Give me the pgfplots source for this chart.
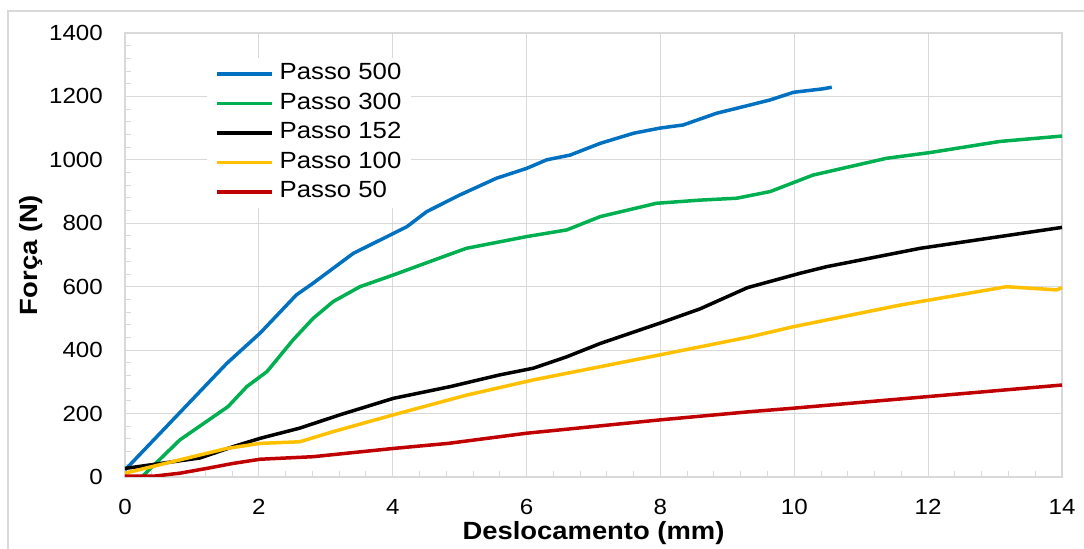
\documentclass[border=0pt]{standalone}
\usepackage{fontspec}
\setmainfont{Liberation Sans}[FakeStretch=1.1]
\usepackage{pgfplots}
\pgfplotsset{compat=1.18}
\definecolor{cBlue}{RGB}{0,112,192}
\definecolor{cGreen}{RGB}{0,176,80}
\definecolor{cYellow}{RGB}{255,192,0}
\definecolor{cRed}{RGB}{192,0,0}
\definecolor{cGrid}{RGB}{217,217,217}
\begin{document}
\begin{tikzpicture}[x=1bp,y=1bp]
\begin{axis}[
  at={(0,0)}, anchor=south west,
  scale only axis, width=937bp, height=444bp,
  xmin=0, xmax=14, ymin=0, ymax=1400,
  xtick={0,2,...,14}, ytick={0,200,...,1400},
  minor tick num=4,
  tick pos=left, tick align=inside,
  major tick length=0pt, minor tick length=6bp,
  every tick/.style={cGrid, line width=1bp},
  grid=major,
  major grid style={cGrid, line width=1.2bp},
  axis line style={cGrid, line width=1.2bp},
  /pgf/number format/assume math mode=true,
  /pgf/number format/1000 sep={},
  ticklabel style={font=\fontsize{22}{22}\selectfont, text=black},
  yticklabel style={inner sep=0pt, xshift=-22bp},
  xticklabel style={inner sep=0pt, yshift=-22bp},
  xlabel={Deslocamento (mm)},
  ylabel={Força (N)},
  every axis x label/.style={at={(axis description cs:0.5,0)}, anchor=north, yshift=-44bp, inner sep=0pt, font=\fontsize{25}{25}\selectfont\bfseries},
  every axis y label/.style={at={(axis description cs:0,0.5)}, xshift=-106bp, rotate=90, anchor=north, inner sep=0pt, font=\fontsize{25}{25}\selectfont\bfseries},
  legend style={at={(rel axis cs:0.0875,0.944)}, anchor=north west, draw=none, fill=white,
    font=\fontsize{23.5}{23.5}\selectfont, inner xsep=8bp, inner ysep=3bp, row sep=4.1bp,
    nodes={inner sep=2bp, text height=16.5bp, text depth=5bp}},
  legend cell align=left,
  legend image code/.code={\draw[#1] (0bp,0bp) -- (55bp,0bp); \path (59bp,0bp);},
  every axis plot/.append style={line width=3.5bp, line join=round},
]
\addplot[cBlue] coordinates {
(0,22) (1.52,358) (2.02,454) (2.56,574) (2.81,611) (3.41,705) (4.01,768) (4.21,789) (4.51,837) (5.0,889) (5.55,942) (6.0,973) (6.3,1000) (6.65,1015) (7.1,1052) (7.6,1084) (7.99,1100) (8.34,1110) (8.84,1147) (9.34,1173) (9.64,1189) (9.99,1213) (10.43,1224) (10.56,1229)
};
\addlegendentry{Passo 500}
\addplot[cGreen] coordinates {
(0.25,0) (0.82,117) (1.54,222) (1.82,285) (2.12,332) (2.51,432) (2.81,500) (3.11,553) (3.51,600) (4.01,637) (4.5,675) (5.1,721) (6.0,758) (6.6,779) (7.1,821) (7.94,863) (8.59,873) (9.14,879) (9.64,900) (10.28,952) (11.38,1005) (12.03,1023) (13.07,1058) (14,1075)
};
\addlegendentry{Passo 300}
\addplot[black] coordinates {
(0,27) (1.12,60) (1.62,96) (2.02,122) (2.61,154) (3.21,196) (4.01,248) (4.86,285) (5.6,322) (6.1,343) (6.6,379) (7.1,421) (7.99,485) (8.59,530) (9.3,597) (10.08,642) (10.48,663) (11.88,721) (14,787)
};
\addlegendentry{Passo 152}
\addplot[cYellow] coordinates {
(0,12) (0.82,54) (1.52,90) (2.02,106) (2.61,111) (3.11,143) (4.01,196) (5.1,258) (6.1,306) (7.99,385) (9.34,442) (9.99,474) (11.58,542) (13.17,600) (13.92,590) (14,597)
};
\addlegendentry{Passo 100}
\addplot[cRed] coordinates {
(0,3) (0.45,3) (0.82,12) (1.22,27) (1.62,43) (2.02,56) (2.81,64) (4.01,90) (4.83,106) (6.0,138) (7.99,180) (9.34,206) (9.99,217) (14,290)
};
\addlegendentry{Passo 50}
\end{axis}
\draw[cGrid, line width=1.5bp] (-117,-90) rectangle (975,466);
\pgfresetboundingbox
\useasboundingbox (-125,-72) rectangle (959,477);
\end{tikzpicture}
\end{document}
